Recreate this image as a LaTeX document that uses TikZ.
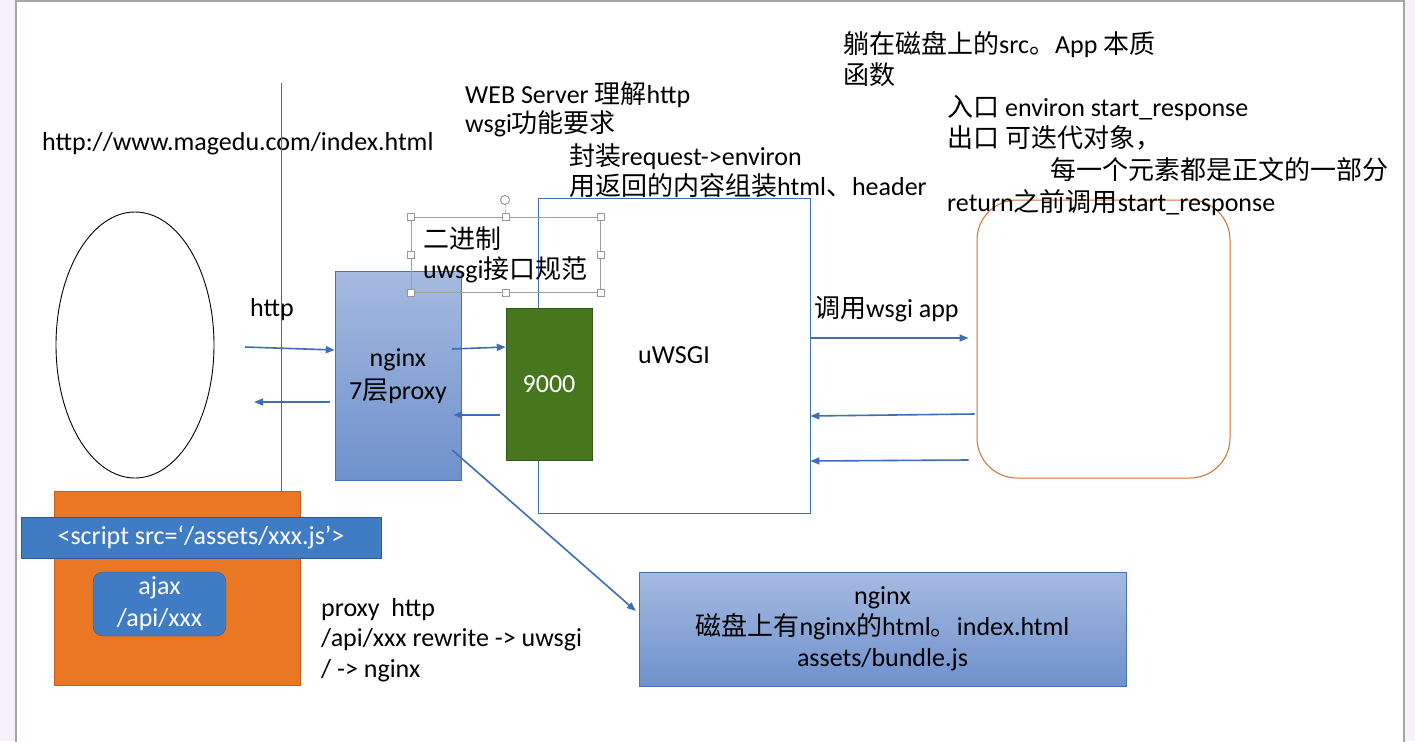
\documentclass[tikz,border=0pt]{standalone}
\usepackage{fontspec}
\setmainfont{Carlito}
\newfontfamily\cjk{Noto Sans CJK SC}
\newcommand\zh[1]{{\cjk #1}}
\usetikzlibrary{shapes.geometric,arrows.meta}
\definecolor{pagebg}{RGB}{245,241,248}
\definecolor{lineblue}{RGB}{62,110,180}
\definecolor{boxtop}{RGB}{166,186,224}
\definecolor{boxbot}{RGB}{110,145,204}
\definecolor{boxline}{RGB}{72,112,178}
\definecolor{portgreen}{RGB}{70,119,30}
\definecolor{portline}{RGB}{52,88,22}
\definecolor{pageorange}{RGB}{233,119,35}
\definecolor{orangeline}{RGB}{196,96,30}
\definecolor{scriptblue}{RGB}{64,124,196}
\definecolor{scriptline}{RGB}{46,88,150}
\definecolor{appline}{RGB}{212,112,52}
\tikzset{
  every node/.style={font=\fontsize{26}{31}\selectfont},
  arr/.style={draw=lineblue, line width=1.6pt, -{Triangle[length=9pt,width=7pt]}},
  txt/.style={anchor=base west, inner sep=0},
  handle/.style={draw=gray!80, fill=white, minimum size=7, inner sep=0}
}
\begin{document}
\begin{tikzpicture}[x=1pt, y=-1pt]
  \useasboundingbox (0,0) rectangle (1415,741);
  \fill[pagebg] (0,0) rectangle (1415,741);
  \filldraw[fill=white, draw=gray!70, line width=1.2pt] (16,1) rectangle (1404,760);
  % browser side
  \node[ellipse, draw, line width=0.9pt, minimum width=158, minimum height=266] (client) at (135,345){};
  \node[txt] (url) at (42,150){http://www.magedu.com/index.html};
  \node[txt] (http) at (250,316){http};
  \node[draw=orangeline, fill=pageorange, minimum width=246, minimum height=194] (page) at (177,588){};
  \coordinate (wall) at (281,83);
  \draw[lineblue, line width=0.8pt](wall) -- (wall |- page.north);
  \node[draw=scriptline, fill=scriptblue, text=white, minimum width=360, minimum height=41, inner sep=0] (script) at (201,537.5){<script src=‘/assets/xxx.js’>};
  \node[draw=scriptline, fill=scriptblue, text=white, rounded corners=10, minimum width=133, minimum height=64, inner sep=0, align=center, font=\fontsize{26}{32}\selectfont] (ajax) at (159.5,604){ajax\\/api/xxx};
  \node[txt] (rule1) at (321,616){proxy~~http};
  \node[txt] (rule2) at (321,646){/api/xxx rewrite -> uwsgi};
  \node[txt] (rule3) at (321,677){/ -> nginx};
  % proxy and uwsgi
  \node[draw=boxline, top color=boxtop, bottom color=boxbot, minimum width=126, minimum height=209, align=center, font=\fontsize{26}{33}\selectfont] (nginx) at (398,376){nginx\\7\zh{层}proxy};
  \node[draw=lineblue, line width=0.8pt, fill=white, minimum width=272, minimum height=315] (uwsgi) at (674,355.5){uWSGI};
  \node[draw=portline, fill=portgreen, text=white, minimum width=86, minimum height=152] (port) at (549,384){9000};
  \node[txt] (web1) at (465,103){WEB Server \zh{理解}http};
  \node[txt] (web2) at (465,132){wsgi\zh{功能要求}};
  \node[txt] (wrap1) at (569,165){\zh{封装}request->environ};
  \node[txt] (wrap2) at (569,195){\zh{用返回的内容组装}html\zh{、}header};
  % selected text box
  \node[draw=gray!75, minimum width=189, minimum height=75] (sel) at (505.5,254.5){};
  \node[txt] (bin1) at (423,248){\zh{二进制}};
  \node[txt] (bin2) at (423,278){uwsgi\zh{接口规范}};
  \node[handle] (h1) at (sel.north west){};
  \node[handle] (h2) at (sel.north){};
  \node[handle] (h3) at (sel.north east){};
  \node[handle] (h4) at (sel.west){};
  \node[handle] (h5) at (sel.east){};
  \node[handle] (h6) at (sel.south west){};
  \node[handle] (h7) at (sel.south){};
  \node[handle] (h8) at (sel.south east){};
  \node[circle, draw=gray!80, line width=1pt, minimum size=9, inner sep=0] (rot) at (505,200){};
  \draw[gray!80](rot) -- (h2);
  % app side
  \node[draw=appline, line width=1pt, rounded corners=40, minimum width=253, minimum height=278] (app) at (1103.5,339){};
  \node[txt] (src1) at (843,54){\zh{躺在磁盘上的}src\zh{。}App \zh{本质}};
  \node[txt] (src2) at (843,85){\zh{函数}};
  \node[txt] (in) at (947,117){\zh{入口} environ start\_response};
  \node[txt] (out1) at (947,147){\zh{出口 可迭代对象，}};
  \node[txt] (out2) at (1050,179){\zh{每一个元素都是正文的一部分}};
  \node[txt] (ret) at (947,211){return\zh{之前调用}start\_response};
  \node[txt] (call) at (814,317){\zh{调用}wsgi app};
  % static
  \node[draw=boxline, top color=boxtop, bottom color=boxbot, minimum width=487, minimum height=114, align=center, font=\fontsize{26}{31}\selectfont] (static) at (882.5,629){nginx\\\zh{磁盘上有}nginx\zh{的}html\zh{。}index.html\\assets/bundle.js};
  % connectors
  \coordinate (reqFrom) at (245,347);
  \coordinate (respTo) at (254,402);
  \draw[arr](reqFrom) -- ([yshift=26]nginx.west);
  \draw[arr]([xshift=-5,yshift=-26]nginx.west) -- (respTo);
  \draw[arr]([xshift=-9,yshift=27]nginx.east) -- ([yshift=37]port.west);
  \draw[arr]([xshift=-6,yshift=-31]port.west) -- ([xshift=-8,yshift=-39]nginx.east);
  \draw[arr]([xshift=-9,yshift=-74]nginx.east) -- ([xshift=-3,yshift=18]static.west);
  \draw[arr]([yshift=17.5]uwsgi.east) -- ([xshift=-8,yshift=1]app.west);
  \draw[arr]([xshift=-2,yshift=-75]app.west) -- ([yshift=-60.5]uwsgi.east);
  \draw[arr]([xshift=-8,yshift=-121]app.west) -- ([yshift=-105.5]uwsgi.east);
\end{tikzpicture}
\end{document}
